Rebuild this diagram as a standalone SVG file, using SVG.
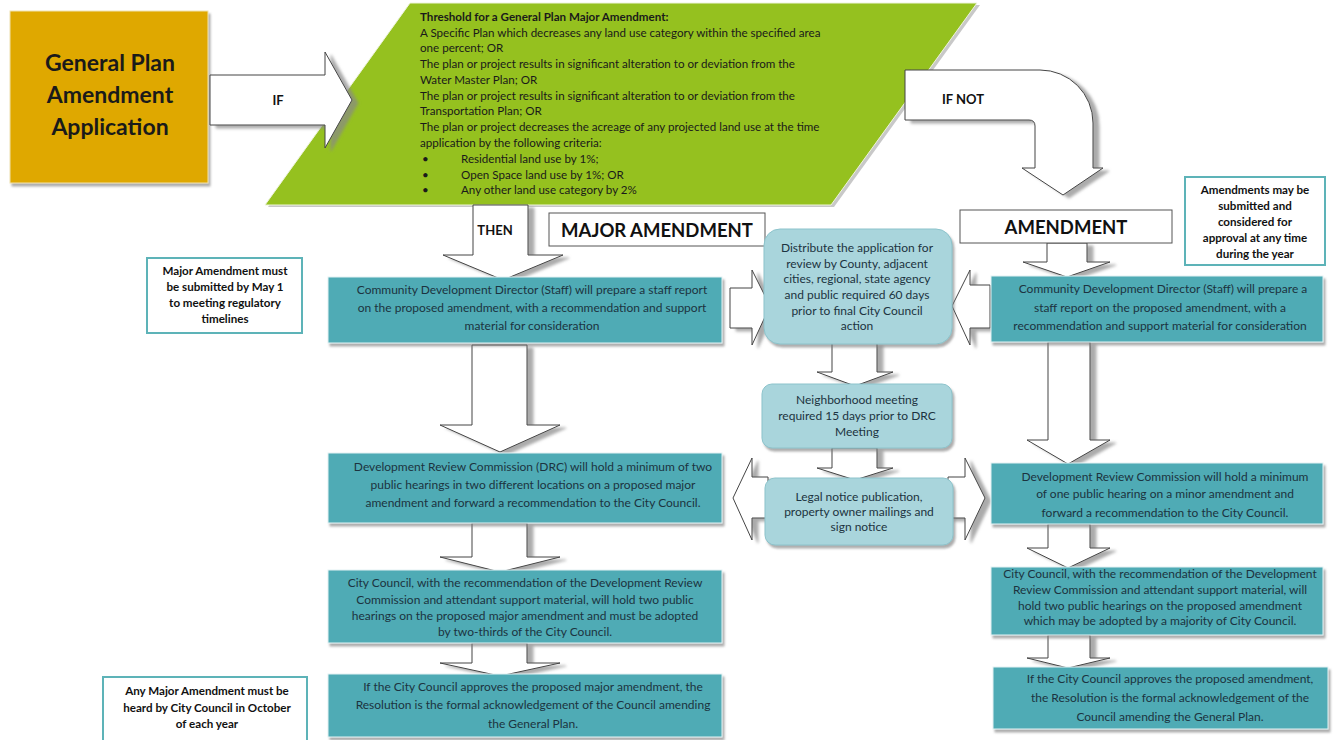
<svg xmlns="http://www.w3.org/2000/svg" width="1335" height="740" viewBox="0 0 1335 740">
<defs>
<filter id="sh" x="-10%" y="-10%" width="130%" height="140%"><feDropShadow dx="2" dy="3" stdDeviation="1.2" flood-color="#777" flood-opacity="0.6"/></filter>
<filter id="ash" x="-20%" y="-20%" width="150%" height="150%"><feDropShadow dx="6" dy="3" stdDeviation="1.5" flood-color="#888" flood-opacity="0.7"/></filter>
<style>
text{font-family:Lato,"Liberation Sans",sans-serif;}
.t{font-size:12px;fill:#1c3340;text-anchor:middle;}
.g{font-size:11.6px;fill:#1a1a1a;}
.n{font-size:11.6px;font-weight:bold;fill:#111;text-anchor:middle;}
.lbl{font-size:13px;font-weight:bold;fill:#111;text-anchor:middle;}
.hd{font-size:18.5px;font-weight:bold;fill:#111;text-anchor:middle;}
.teal{fill:#4fabb5;stroke:#e4f2f3;stroke-width:1;filter:url(#sh);}
.lb{fill:#a9d5dc;stroke:#8cc3cb;stroke-width:1;filter:url(#sh);}
.note{fill:#fff;stroke:#5db3b8;stroke-width:2;}
.hbox{fill:#fff;stroke:#555;stroke-width:1;}
.arr{fill:#fff;stroke:#444;stroke-width:1;filter:url(#ash);}
</style>
</defs>

<g id="general-plan">
<rect x="10" y="11" width="198" height="172" fill="#dfa800" stroke="#f0e2b0" stroke-width="1" filter="url(#sh)"/>
<text x="110" y="71" style="font-size:23px;font-weight:bold;fill:#1a1a1a;text-anchor:middle">General Plan</text>
<text x="110" y="103" style="font-size:23px;font-weight:bold;fill:#1a1a1a;text-anchor:middle">Amendment</text>
<text x="110" y="135" style="font-size:23px;font-weight:bold;fill:#1a1a1a;text-anchor:middle">Application</text>
</g>

<g id="threshold">
<polygon points="413,5 980,5 834,207 268,207" fill="#c8c8c8"/>
<polygon points="410,3 977,3 831,205 265,205" fill="#95c11f" stroke="#eef4dc" stroke-width="1"/>
<text class="g" x="420" y="21" style="font-weight:bold">Threshold for a General Plan Major Amendment:</text>
<text class="g" x="420" y="37">A Specific Plan which decreases any land use category within the specified area</text>
<text class="g" x="420" y="52">one percent; OR</text>
<text class="g" x="420" y="68">The plan or project results in significant alteration to or deviation from the</text>
<text class="g" x="420" y="84">Water Master Plan; OR</text>
<text class="g" x="420" y="100">The plan or project results in significant alteration to or deviation from the</text>
<text class="g" x="420" y="115">Transportation Plan; OR</text>
<text class="g" x="420" y="131">The plan or project decreases the acreage of any projected land use at the time</text>
<text class="g" x="420" y="147">application by the following criteria:</text>
<text class="g" x="422" y="163">•</text><text class="g" x="461" y="163">Residential land use by 1%;</text>
<text class="g" x="422" y="179">•</text><text class="g" x="461" y="179">Open Space land use by 1%;  OR</text>
<text class="g" x="422" y="194">•</text><text class="g" x="461" y="194">Any other land use category by 2%</text>
</g>

<g id="connectors">
<polygon class="arr" points="210,75 325,75 325,52 352,100 325,148 325,125 210,125"/>
<path class="arr" d="M905 70 L1040 70 A53 53 0 0 1 1093 123 L1093 168 L1103 168 L1063 195 L1022 168 L1035 168 L1035 126 Q1035 120 1029 120 L905 120 Z"/>
<polygon class="arr" points="473,205 528,205 528,255 563,255 503,280 443,255 473,255"/>
<polygon class="arr" points="472,345 527,345 527,425 560,425 500,452 440,425 472,425"/>
<polygon class="arr" points="472,523 527,523 527,557 560,557 500,572 440,557 472,557"/>
<polygon class="arr" points="472,643 527,643 527,663 560,663 500,676 440,663 472,663"/>
<polygon class="arr" points="832,343 877,343 877,372 893,372 855,386 817,372 832,372"/>
<polygon class="arr" points="832,448 877,448 877,468 893,468 855,480 817,468 832,468"/>
<polygon class="arr" points="1047,243 1087,243 1087,262 1110,262 1067,277 1023,262 1047,262"/>
<polygon class="arr" points="1048,342 1090,342 1090,440 1110,440 1068,464 1027,440 1048,440"/>
<polygon class="arr" points="1048,524 1090,524 1090,548 1110,548 1068,568 1027,548 1048,548"/>
<polygon class="arr" points="1048,635 1090,635 1090,658 1110,658 1068,668 1027,658 1048,658"/>
<polygon class="arr" points="730,288 752,288 752,270 770,306 752,345 752,328 730,328"/>
<polygon class="arr" points="990,285 970,285 970,270 952,306 970,345 970,328 990,328"/>
<polygon class="arr" points="768,477 752,477 752,458 733,498 752,540 752,518 768,518"/>
<polygon class="arr" points="948,477 965,477 965,458 985,498 965,540 965,518 948,518"/>
<text class="lbl" x="278" y="105">IF</text>
<text class="lbl" x="963" y="104">IF NOT</text>
<text class="lbl" x="495" y="235">THEN</text>
</g>

<g id="major-amendment-label">
<rect class="hbox" x="549" y="213" width="216" height="33"/>
<text class="hd" x="657" y="237">MAJOR AMENDMENT</text>
</g>
<g id="amendment-label">
<rect class="hbox" x="960" y="210" width="212" height="33"/>
<text class="hd" x="1066" y="234">AMENDMENT</text>
</g>

<g id="note-may1">
<rect class="note" x="147" y="258" width="155" height="75"/>
<text class="n" x="225" y="275">Major Amendment must</text>
<text class="n" x="225" y="291">be submitted by May 1</text>
<text class="n" x="225" y="307">to meeting regulatory</text>
<text class="n" x="225" y="323">timelines</text>
</g>
<g id="note-october">
<rect class="note" x="103" y="677" width="204" height="66"/>
<text class="n" x="207" y="695">Any Major Amendment must be</text>
<text class="n" x="207" y="712">heard by City Council in October</text>
<text class="n" x="207" y="728">of each year</text>
</g>
<g id="note-anytime">
<rect class="note" x="1185" y="177" width="140" height="88"/>
<text class="n" x="1255" y="194">Amendments may be</text>
<text class="n" x="1255" y="210">submitted and</text>
<text class="n" x="1255" y="226">considered for</text>
<text class="n" x="1255" y="242">approval at any time</text>
<text class="n" x="1255" y="258">during the year</text>
</g>

<g id="left-staff">
<rect class="teal" x="328" y="277" width="394" height="66"/>
<text class="t" x="532" y="294">Community Development Director (Staff) will prepare a staff report</text>
<text class="t" x="532" y="312">on the proposed amendment, with a recommendation and support</text>
<text class="t" x="532" y="330">material for consideration</text>
</g>
<g id="left-drc">
<rect class="teal" x="328" y="453" width="394" height="70"/>
<text class="t" x="533" y="471">Development Review Commission (DRC) will hold a minimum of two</text>
<text class="t" x="533" y="489">public hearings  in two different locations on a proposed major</text>
<text class="t" x="533" y="507">amendment and forward a recommendation to the City Council.</text>
</g>
<g id="left-council">
<rect class="teal" x="328" y="570" width="394" height="73"/>
<text class="t" x="525" y="587">City Council, with the recommendation of the Development Review</text>
<text class="t" x="525" y="604">Commission and attendant support material, will hold two public</text>
<text class="t" x="525" y="620">hearings on the proposed major amendment and must be adopted</text>
<text class="t" x="525" y="636">by two-thirds of the City Council.</text>
</g>
<g id="left-resolution">
<rect class="teal" x="328" y="674" width="394" height="63"/>
<text class="t" x="533" y="691">If the City Council approves the proposed major amendment, the</text>
<text class="t" x="533" y="709">Resolution is the formal acknowledgement of the Council amending</text>
<text class="t" x="533" y="728">the General Plan.</text>
</g>

<g id="center-distribute">
<rect class="lb" x="764" y="229" width="188" height="115" rx="16"/>
<text class="t" x="857" y="252">Distribute the application for</text>
<text class="t" x="857" y="268">review by County, adjacent</text>
<text class="t" x="857" y="283">cities, regional, state agency</text>
<text class="t" x="857" y="299">and public required 60 days</text>
<text class="t" x="857" y="315">prior to final City Council</text>
<text class="t" x="857" y="330">action</text>
</g>
<g id="center-neighborhood">
<rect class="lb" x="762" y="384" width="190" height="64" rx="10"/>
<text class="t" x="857" y="404">Neighborhood meeting</text>
<text class="t" x="857" y="420">required 15 days prior to DRC</text>
<text class="t" x="857" y="436">Meeting</text>
</g>
<g id="center-notice">
<rect class="lb" x="765" y="478" width="188" height="67" rx="10"/>
<text class="t" x="859" y="501">Legal notice publication,</text>
<text class="t" x="859" y="516">property owner mailings and</text>
<text class="t" x="859" y="531">sign notice</text>
</g>

<g id="right-staff">
<rect class="teal" x="991" y="276" width="332" height="66"/>
<text class="t" x="1163" y="293">Community Development Director (Staff) will prepare a</text>
<text class="t" x="1160" y="312">staff report on the proposed amendment, with a</text>
<text class="t" x="1160" y="330">recommendation and support material for consideration</text>
</g>
<g id="right-drc">
<rect class="teal" x="991" y="463" width="332" height="61"/>
<text class="t" x="1165" y="481">Development Review Commission will hold a minimum</text>
<text class="t" x="1165" y="498">of one public hearing on a minor amendment and</text>
<text class="t" x="1165" y="517">forward a recommendation to the City Council.</text>
</g>
<g id="right-council">
<rect class="teal" x="991" y="567" width="332" height="68"/>
<text class="t" x="1160" y="578">City Council, with the recommendation of the Development</text>
<text class="t" x="1160" y="594">Review Commission and attendant support material, will</text>
<text class="t" x="1160" y="610">hold two public hearings on the proposed amendment</text>
<text class="t" x="1160" y="625">which may be adopted by a majority of City Council.</text>
</g>
<g id="right-resolution">
<rect class="teal" x="993" y="667" width="335" height="62"/>
<text class="t" x="1170" y="683">If the City Council approves the proposed amendment,</text>
<text class="t" x="1170" y="702">the Resolution is the formal acknowledgement of the</text>
<text class="t" x="1170" y="721">Council amending the General Plan.</text>
</g>
</svg>
